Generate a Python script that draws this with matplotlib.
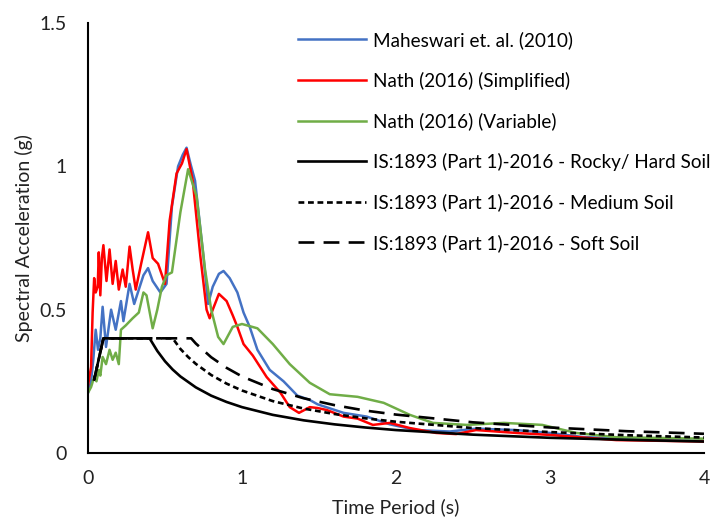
import matplotlib
matplotlib.use('Agg')
import matplotlib.pyplot as plt

# Maheswari et. al. (2010)
t_mah = [0.0, 0.02, 0.035, 0.05, 0.065, 0.08, 0.095, 0.117, 0.15, 0.18, 0.214, 0.23, 0.27, 0.30,
         0.33, 0.36, 0.39, 0.42, 0.47, 0.51, 0.545, 0.585, 0.615, 0.64, 0.665, 0.695, 0.75,
         0.78, 0.81, 0.85, 0.88, 0.92, 0.97, 1.01, 1.05, 1.10, 1.18, 1.27, 1.36, 1.44, 1.49,
         1.66, 1.81, 1.96, 2.13, 2.35, 2.52, 2.78, 3.0, 3.21, 3.65, 4.0]
sa_mah = [0.21, 0.25, 0.33, 0.43, 0.36, 0.40, 0.51, 0.37, 0.50, 0.43, 0.53, 0.46, 0.59, 0.52,
          0.57, 0.62, 0.645, 0.60, 0.56, 0.59, 0.86, 1.00, 1.04, 1.065, 1.01, 0.95, 0.685,
          0.52, 0.58, 0.625, 0.635, 0.61, 0.56, 0.49, 0.44, 0.36, 0.29, 0.25, 0.20, 0.185, 0.17,
          0.14, 0.127, 0.10, 0.08, 0.075, 0.085, 0.08, 0.07, 0.056, 0.045, 0.042]

# Nath (2016) (Simplified)
t_ns = [0.0, 0.02, 0.03, 0.04, 0.05, 0.063, 0.07, 0.08, 0.09, 0.10, 0.12, 0.14, 0.16, 0.18,
        0.20, 0.225, 0.245, 0.27, 0.29, 0.31, 0.345, 0.39, 0.42, 0.455, 0.50, 0.53, 0.575,
        0.61, 0.64, 0.68, 0.73, 0.77, 0.79, 0.81, 0.85, 0.90, 0.94, 0.97, 1.01, 1.07, 1.16,
        1.25, 1.31, 1.37, 1.44, 1.49, 1.55, 1.66, 1.75, 1.85, 1.96, 2.09, 2.26, 2.39, 2.52,
        2.78, 3.0, 3.43, 4.0]
sa_ns = [0.235, 0.30, 0.49, 0.61, 0.56, 0.58, 0.70, 0.55, 0.68, 0.725, 0.60, 0.71, 0.59, 0.67,
         0.57, 0.64, 0.58, 0.72, 0.64, 0.57, 0.66, 0.77, 0.68, 0.66, 0.59, 0.81, 0.975,
         1.01, 1.06, 0.95, 0.685, 0.50, 0.47, 0.50, 0.555, 0.53, 0.48, 0.44, 0.38, 0.34, 0.265,
         0.21, 0.16, 0.14, 0.16, 0.157, 0.15, 0.127, 0.12, 0.098, 0.105, 0.087, 0.07, 0.066, 0.08,
         0.07, 0.063, 0.045, 0.04]

# Nath (2016) (Variable)
t_nv = [0.0, 0.02, 0.04, 0.055, 0.07, 0.08, 0.095, 0.117, 0.14, 0.16, 0.18, 0.20, 0.214, 0.245,
        0.29, 0.33, 0.36, 0.38, 0.42, 0.45, 0.48, 0.51, 0.545, 0.60, 0.65, 0.705, 0.76, 0.80,
        0.845, 0.88, 0.94, 1.0, 1.10, 1.20, 1.31, 1.44, 1.57, 1.75, 1.92, 2.09, 2.24, 2.46,
        2.70, 2.95, 3.17, 3.43, 4.0]
sa_nv = [0.21, 0.23, 0.265, 0.25, 0.29, 0.27, 0.335, 0.31, 0.36, 0.325, 0.35, 0.31, 0.43, 0.445,
         0.47, 0.49, 0.56, 0.55, 0.435, 0.50, 0.58, 0.62, 0.63, 0.84, 0.99, 0.895, 0.64, 0.50,
         0.405, 0.38, 0.44, 0.45, 0.435, 0.38, 0.31, 0.245, 0.205, 0.196, 0.175, 0.133, 0.105, 0.098,
         0.105, 0.098, 0.07, 0.055, 0.05]

# IS:1893 (Part 1)-2016
t_rock = [0.04, 0.1, 0.4, 0.45, 0.5, 0.55, 0.6, 0.7, 0.8, 0.9, 1.0, 1.2, 1.4, 1.6, 1.8, 2.0,
          2.5, 3.0, 3.5, 4.0]
sa_rock = [0.256, 0.40, 0.40, 0.356, 0.32, 0.291, 0.267, 0.229, 0.20, 0.178, 0.16, 0.133, 0.114,
           0.10, 0.089, 0.08, 0.064, 0.053, 0.046, 0.04]
t_med = [0.04, 0.1, 0.55, 0.6, 0.65, 0.7, 0.8, 0.9, 1.0, 1.2, 1.4, 1.6, 1.8, 2.0, 2.5, 3.0,
         3.5, 4.0]
sa_med = [0.256, 0.40, 0.40, 0.363, 0.335, 0.311, 0.272, 0.242, 0.218, 0.181, 0.155, 0.136,
          0.121, 0.109, 0.087, 0.073, 0.062, 0.054]
t_soft = [0.04, 0.1, 0.67, 0.7, 0.8, 0.9, 1.0, 1.2, 1.4, 1.6, 1.8, 2.0, 2.5, 3.0, 3.5, 4.0]
sa_soft = [0.256, 0.40, 0.40, 0.382, 0.334, 0.297, 0.267, 0.223, 0.191, 0.167, 0.148, 0.134,
           0.107, 0.089, 0.076, 0.067]

x_ticks = [0, 1, 2, 3, 4]
y_ticks = [0, 0.5, 1, 1.5]
y_tick_labels = ['0', '0.5', '1', '1.5']


def main():
    plt.rcParams['font.family'] = ['Lato', 'DejaVu Sans']
    fig = plt.figure(figsize=(7.18, 5.17), dpi=100)
    ax = fig.add_axes([88 / 718, 64 / 517, 616 / 718, 430 / 517])

    ax.plot(t_mah, sa_mah, color='#4472C4', lw=1.8, label='Maheswari et. al. (2010)')
    ax.plot(t_ns, sa_ns, color='#FF0000', lw=1.8, label='Nath (2016) (Simplified)')
    ax.plot(t_nv, sa_nv, color='#70AD47', lw=1.8, label='Nath (2016) (Variable)')
    ax.plot(t_rock, sa_rock, color='black', lw=1.9, label='IS:1893 (Part 1)-2016 - Rocky/ Hard Soil')
    ax.plot(t_med, sa_med, color='black', lw=1.9, dashes=(2.2, 1.4),
            label='IS:1893 (Part 1)-2016 - Medium Soil')
    ax.plot(t_soft, sa_soft, color='black', lw=1.9, dashes=(6, 3.5),
            label='IS:1893 (Part 1)-2016 - Soft Soil')

    ax.set_xlim(0, 4)
    ax.set_ylim(0, 1.5)
    ax.set_xticks(x_ticks)
    ax.set_yticks(y_ticks)
    ax.set_yticklabels(y_tick_labels)
    for side in ['top', 'right']:
        ax.spines[side].set_visible(False)
    for side in ['left', 'bottom']:
        ax.spines[side].set_linewidth(1.5)
        ax.spines[side].set_color('black')
    ax.tick_params(axis='both', length=0, labelsize=14, colors='#222222')
    ax.tick_params(axis='y', pad=15)
    ax.tick_params(axis='x', pad=12)

    ax.set_xlabel('Time Period (s)', fontsize=14, color='#222222', labelpad=8)
    ax.set_ylabel('Spectral Acceleration (g)', fontsize=14, color='#222222', labelpad=5)

    ax.legend(loc='upper left', bbox_to_anchor=(298 / 718, 486 / 517),
              bbox_transform=fig.transFigure, frameon=False, fontsize=13.6,
              handlelength=3.6, handletextpad=0.38, labelspacing=1.2, borderaxespad=0,
              borderpad=0)

    plt.savefig('out.png', dpi=100)


if __name__ == '__main__':
    main()
